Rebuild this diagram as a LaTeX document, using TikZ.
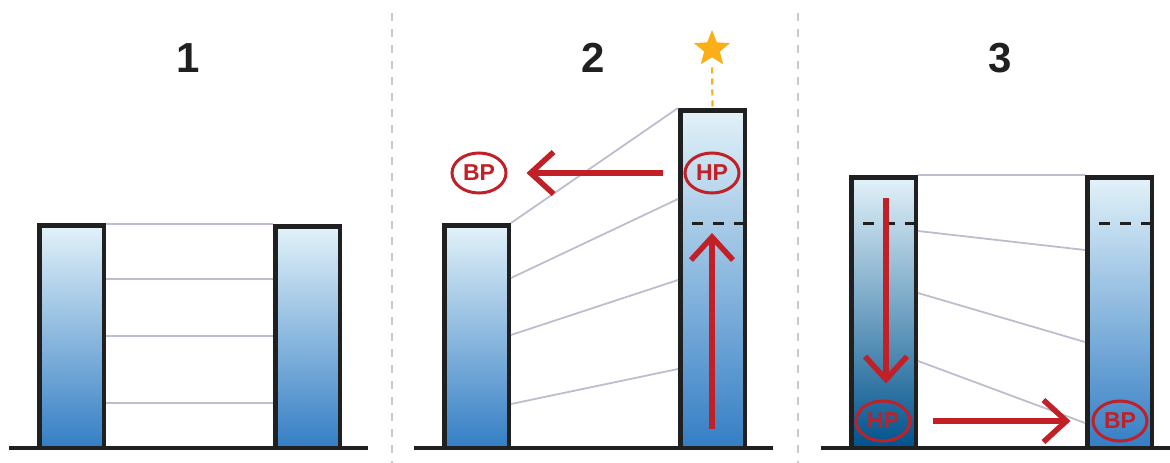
\documentclass[tikz,border=0pt]{standalone}
\usepackage{fontspec}
\setmainfont{Liberation Sans}
\usetikzlibrary{arrows.meta,shapes.geometric}

\definecolor{ink}{RGB}{32,32,32}
\definecolor{wire}{RGB}{188,190,208}
\definecolor{divider}{RGB}{200,200,208}
\definecolor{alert}{RGB}{192,32,38}
\definecolor{gold}{RGB}{250,175,25}
\definecolor{waterTop}{RGB}{226,242,249}
\definecolor{waterMid}{RGB}{152,186,226}
\definecolor{waterBot}{RGB}{52,126,196}
\definecolor{deepMid}{RGB}{112,154,198}
\definecolor{deepBot}{RGB}{0,82,140}

\tikzset{
  column/.style={draw=ink, line width=4.5pt, minimum width=64.5pt, inner sep=0pt,
    anchor=south west, shading=axis, top color=waterTop, middle color=waterMid,
    bottom color=waterBot},
  deepcolumn/.style={column, top color=waterTop, middle color=deepMid, bottom color=deepBot},
  ground/.style={draw=ink, line width=4pt},
  link/.style={draw=wire, line width=1.8pt},
  level/.style={draw=ink, line width=3pt, dash pattern=on 11pt off 10pt},
  separator/.style={draw=divider, line width=2pt, dash pattern=on 8pt off 8pt},
  tag/.style={ellipse, draw=alert, line width=3pt, minimum width=54pt, minimum height=40pt,
    inner sep=0pt, text=alert, font=\fontsize{23}{23}\selectfont\bfseries},
  flow/.style={draw=alert, line width=5.5pt, -{Straight Barb[length=23pt,width=42pt]}},
  stage/.style={text=ink, font=\fontsize{42}{42}\selectfont\bfseries, inner sep=0pt},
}

\begin{document}
\begin{tikzpicture}[x=1pt,y=-1pt]
\useasboundingbox (0,0) rectangle (1170,463);

% panel separators
\coordinate (s1a) at (391.5,13); \coordinate (s1b) at (391.5,463);
\coordinate (s2a) at (797.5,13); \coordinate (s2b) at (797.5,463);
\draw[separator] (s1a) -- (s1b);
\draw[separator] (s2a) -- (s2b);

% stage numbers
\node[stage] (n1) at (188,58) {1};
\node[stage] (n2) at (593,58) {2};
\node[stage] (n3) at (1000,58) {3};

% ---------- stage 1 ----------
\node[column, minimum height=222.5pt] (L1) at (37,450) {};
\node[column, minimum height=221.5pt] (R1) at (273,450) {};
\draw[link] (L1.east |- 0,224) -- (R1.west |- 0,224);
\draw[link] (L1.east |- 0,279) -- (R1.west |- 0,279);
\draw[link] (L1.east |- 0,336) -- (R1.west |- 0,336);
\draw[link] (L1.east |- 0,403) -- (R1.west |- 0,403);
\coordinate (g1a) at (9,448); \coordinate (g1b) at (368,448);
\draw[ground] (g1a) -- (g1b);

% ---------- stage 2 ----------
\node[column, minimum height=222.5pt] (L2) at (442,450) {};
\node[column, minimum height=337.5pt] (R2) at (678,450) {};
\draw[link] (L2.north east) -- (R2.north west);
\draw[link] (L2.east |- 0,278) -- (R2.west |- 0,199);
\draw[link] (L2.east |- 0,335) -- (R2.west |- 0,280);
\draw[link] (L2.east |- 0,404) -- (R2.west |- 0,369);
\draw[level, dash phase=7pt] (R2.west |- 0,223) -- (R2.east |- 0,223);
\coordinate (g2a) at (414,448); \coordinate (g2b) at (773,448);
\draw[ground] (g2a) -- (g2b);

\node[star, star points=5, star point ratio=2.3, minimum size=38pt, inner sep=0pt,
  fill=gold] (goal) at (712,49) {};
\draw[gold, line width=2.2pt, dash pattern=on 6pt off 5pt, shorten <=10pt]
  (goal.south) -- (R2.north);

\node[tag] (hp2) at (712,173) {HP};
\node[tag] (bp2) at (479,173) {BP};
\draw[flow, shorten <=21pt, shorten >=19pt] (hp2.west) -- (bp2.east);
\coordinate (rise0) at (712,429); \coordinate (rise1) at (712,233);
\draw[flow] (rise0) -- (rise1);

% ---------- stage 3 ----------
\node[deepcolumn, minimum height=270.5pt] (L3) at (849,450) {};
\node[column, minimum height=270.5pt] (R3) at (1085,450) {};
\draw[link] (L3.north east) -- (R3.north west);
\draw[link] (L3.east |- 0,231) -- (R3.west |- 0,250);
\draw[link] (L3.east |- 0,293) -- (R3.west |- 0,342);
\draw[link] (L3.east |- 0,361) -- (R3.west |- 0,423);
\draw[level, dash phase=7pt] (L3.west |- 0,223) -- (L3.east |- 0,223);
\draw[level, dash phase=7pt] (R3.west |- 0,223) -- (R3.east |- 0,223);
\coordinate (g3a) at (821,448); \coordinate (g3b) at (1170,448);
\draw[ground] (g3a) -- (g3b);

\node[tag] (hp3) at (883,421) {HP};
\node[tag] (bp3) at (1120,421) {BP};
\coordinate (fall0) at (886,198);
\draw[flow, shorten >=16pt] (fall0) -- (hp3.north -| fall0);
\draw[flow, shorten <=21pt, shorten >=21pt] (hp3.east) -- (bp3.west);
\end{tikzpicture}
\end{document}
